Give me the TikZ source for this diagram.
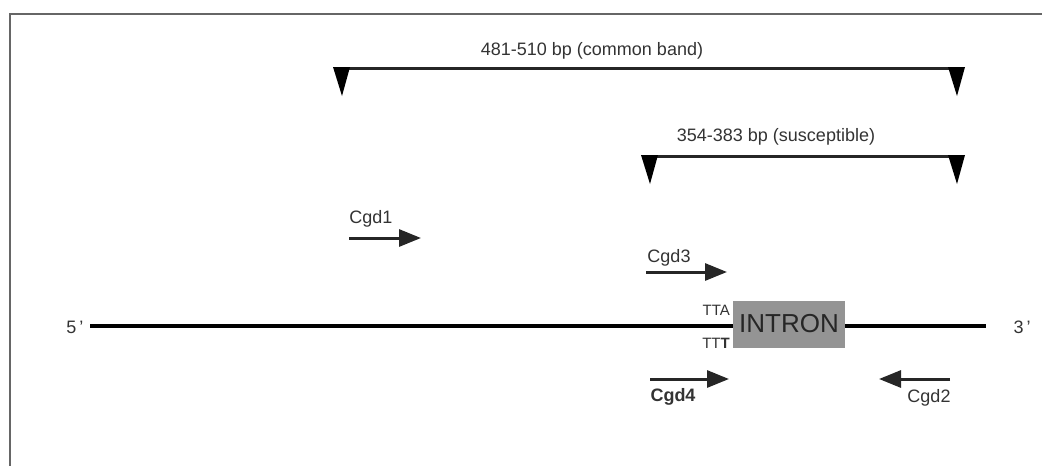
\documentclass[tikz,border=0pt]{standalone}
\usepackage{fontspec}
\setmainfont{Liberation Sans}
\usetikzlibrary{arrows.meta}
\tikzset{
  lbl/.style={inner sep=0pt, font=\fontsize{18}{20}\selectfont, text=black!80},
  bracket/.style={line width=3pt, black!85},
  tri/.style={fill=black, draw=none},
  primer/.style={line width=3pt, black!85, -{Triangle[length=22pt,width=17pt]}},
  dna/.style={line width=4pt, black},
  small/.style={inner sep=0pt, font=\fontsize{15}{17}\selectfont, text=black!80},
}
\begin{document}
\begin{tikzpicture}[x=1pt,y=-1pt]
\useasboundingbox (0,0) rectangle (1042,466);
% frame
\draw[line width=1.5pt, black!60] (10,466) -- (10,14) -- (1042,14);
% brackets
\coordinate (b1l) at (340,68);
\coordinate (b1r) at (957,68);
\draw[bracket] (b1l) -- (b1r);
\fill[tri] (333,67) -- (350,67) -- (342,96) -- cycle;
\fill[tri] (948,67) -- (965,67) -- (957,96) -- cycle;
\node[lbl] (t1) at (592,51) {481-510 bp (common band)};
\coordinate (b2l) at (645,156);
\coordinate (b2r) at (957,156);
\draw[bracket] (b2l) -- (b2r);
\fill[tri] (641,155) -- (658,155) -- (650,184) -- cycle;
\fill[tri] (948,155) -- (965,155) -- (957,184) -- cycle;
\node[lbl] (t2) at (776,137) {354-383 bp (susceptible)};
% primers
\node[lbl] (cgd1) at (371,219) {Cgd1};
\coordinate (c1a) at (349,238);
\coordinate (c1b) at (421,238);
\draw[primer] (c1a) -- (c1b);
\node[lbl] (cgd3) at (669,258) {Cgd3};
\coordinate (c3a) at (646,272);
\coordinate (c3b) at (727,272);
\draw[primer] (c3a) -- (c3b);
\node[lbl, font=\fontsize{18}{20}\selectfont\bfseries] (cgd4) at (673,397) {Cgd4};
\coordinate (c4a) at (650,379);
\coordinate (c4b) at (729,379);
\draw[primer] (c4a) -- (c4b);
\node[lbl] (cgd2) at (929,398) {Cgd2};
\coordinate (c2a) at (950,379);
\coordinate (c2b) at (879,379);
\draw[primer] (c2a) -- (c2b);
% DNA
\node[lbl] (five) at (75,327) {5\,'};
\node[lbl] (three) at (1022,327) {3\,'};
\node[fill=black!42, minimum width=112pt, minimum height=47pt, inner sep=0pt,
      font=\fontsize{26}{28}\selectfont, text=black!85] (intron) at (789,324) {INTRON};
\coordinate (dl) at (90,326);
\coordinate (dr) at (986,326);
\draw[dna] (dl) -- (intron.west |- dl);
\draw[dna] (intron.east |- dr) -- (dr);
\node[small, anchor=east] (tta) at (730,310) {TTA};
\node[small, anchor=east] (ttt) at (730,343) {TT\textbf{T}};
\end{tikzpicture}
\end{document}
